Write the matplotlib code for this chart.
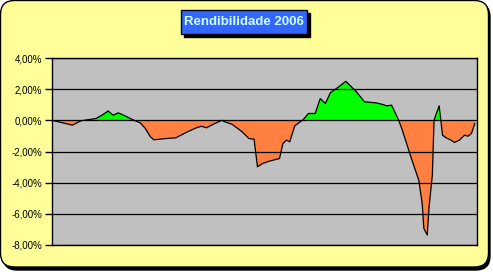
import matplotlib
matplotlib.use("Agg")
import numpy as np
from matplotlib import pyplot as plt
from matplotlib.patches import FancyBboxPatch, Rectangle
from matplotlib.transforms import IdentityTransform

# dias de negociação (aprox.) e rendibilidade acumulada em %
dias = [0, 4, 12, 17, 23, 26, 30, 33, 36, 39, 43, 47, 49, 52, 55, 58, 60, 67, 73, 79,
        85, 88, 91, 95, 100, 102, 106, 112, 116, 119, 121, 124, 128, 134, 136, 138, 140,
        143, 148, 151, 155, 158, 161, 164, 168, 173, 179, 184, 191, 195, 197, 200, 204,
        206, 212, 216, 218, 219, 221, 222, 224, 225, 226, 228, 229, 230, 232, 235, 237,
        240, 243, 245, 247, 249]
rend = [0.0, -0.10, -0.31, -0.03, 0.07, 0.12, 0.37, 0.60, 0.33, 0.48, 0.29, 0.07, -0.03,
        -0.16, -0.53, -1.06, -1.25, -1.17, -1.12, -0.78, -0.48, -0.38, -0.48, -0.25, 0.0,
        -0.10, -0.25, -0.74, -1.17, -1.21, -2.98, -2.77, -2.62, -2.45, -1.49, -1.27, -1.38,
        -0.35, 0.05, 0.44, 0.44, 1.40, 1.08, 1.78, 2.08, 2.50, 1.87, 1.19, 1.12, 1.01, 0.93,
        0.97, 0.05, -0.53, -2.56, -3.84, -5.33, -6.94, -7.36, -5.65, -3.52, 0.0, 0.32, 0.93,
        0.0, -0.95, -1.12, -1.27, -1.42, -1.27, -0.95, -1.02, -0.85, -0.2]
yticks = [4, 2, 0, -2, -4, -6, -8]
titulo = "Rendibilidade 2006"

W, H = 493, 272
fig = plt.figure(figsize=(W / 100, H / 100), dpi=100)
fig.patch.set_facecolor("white")

# moldura amarela com cantos arredondados e sombra
px = IdentityTransform()
sombra = FancyBboxPatch((3, 2), W - 6, H - 5, boxstyle="round,pad=0,rounding_size=14",
                        transform=px, facecolor="black", edgecolor="black", zorder=-10)
moldura = FancyBboxPatch((0.5, 5), W - 5, H - 5.5, boxstyle="round,pad=0,rounding_size=14",
                         transform=px, facecolor="#FFFF99", edgecolor="black", lw=1, zorder=-9)
fig.patches.extend([sombra, moldura])

# caixa do título
tx0, ty0, tw, th = 181, H - 34, 126, 24
fig.patches.append(Rectangle((tx0 + 3, ty0 - 3), tw, th, transform=px,
                             facecolor="black", edgecolor="black", zorder=-8))
fig.patches.append(Rectangle((tx0, ty0), tw, th, transform=px,
                             facecolor="#3366FF", edgecolor="black", lw=1, zorder=-7))
fig.text((tx0 + tw / 2) / W, (ty0 + th / 2) / H, titulo, ha="center", va="center",
         color="#CCFFFF", fontsize=9.5, fontweight="bold", family="Liberation Sans")

ax = fig.add_axes([52 / W, (H - 245) / H, (476.5 - 52) / W, (245 - 58) / H])
ax.set_facecolor("#C0C0C0")

x = np.array(dias, dtype=float)
y = np.array(rend)
ax.fill_between(x, y, 0, where=y >= 0, interpolate=True, color="#00FF00", lw=0)
ax.fill_between(x, y, 0, where=y <= 0, interpolate=True, color="#FF8040", lw=0)
ax.plot(x, y, color="black", lw=0.9)

ax.set_xlim(0, 250)
ax.set_ylim(-8, 4)
ax.set_yticks(yticks)
ax.yaxis.set_major_formatter(plt.FuncFormatter(lambda v, p: ("%.2f%%" % v).replace(".", ",")))
ax.set_xticks([])
ax.grid(True, axis="y", color="black", lw=0.9)
ax.set_axisbelow(False)
ax.tick_params(axis="y", direction="out", length=5, width=1, labelsize=7, pad=2)
for s in ax.spines.values():
    s.set_color("black")
    s.set_linewidth(1)
for lab in ax.get_yticklabels():
    lab.set_family("Liberation Sans")

fig.savefig("out.png", dpi=100, facecolor=fig.get_facecolor())
